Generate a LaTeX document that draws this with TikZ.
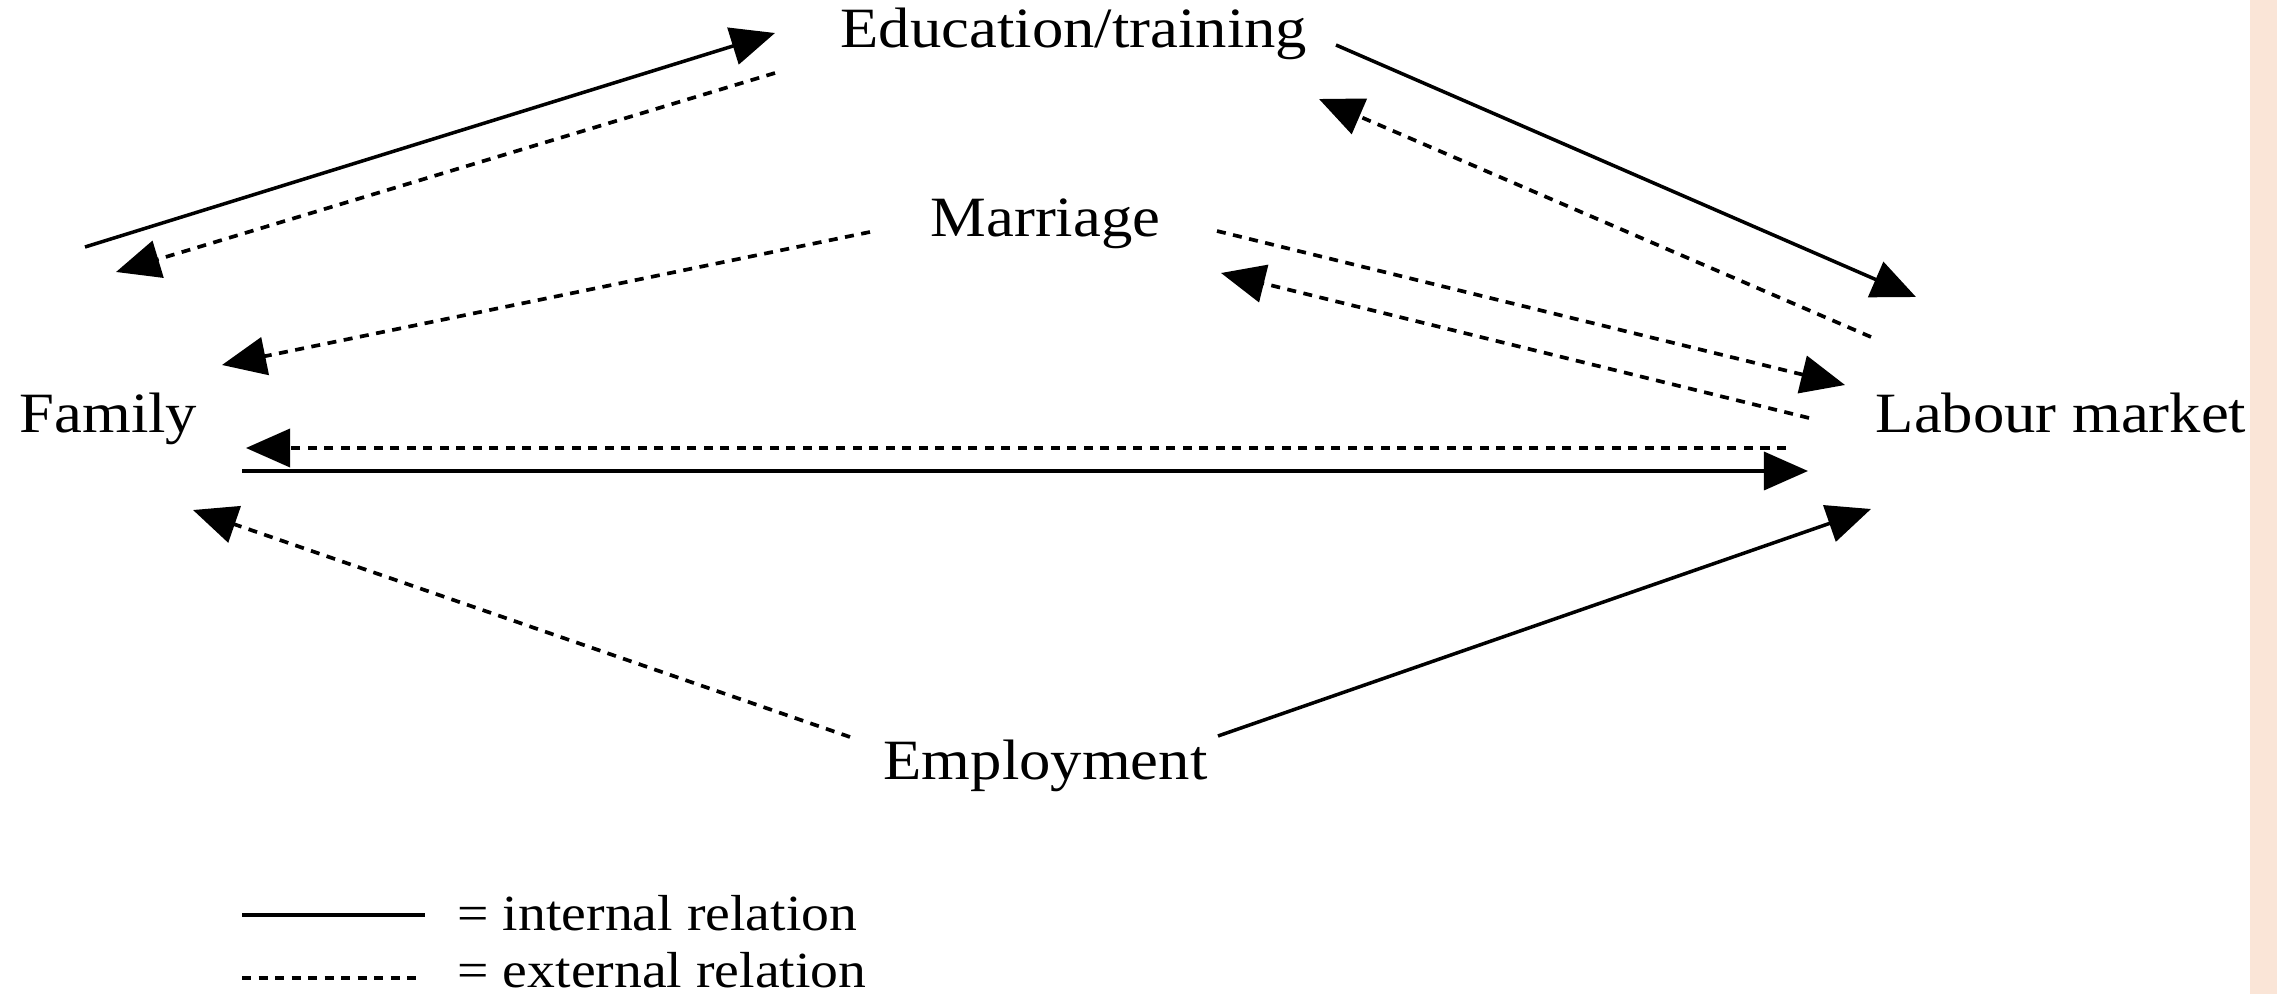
\documentclass[tikz,border=0pt]{standalone}
\usepackage{fontspec}
\setmainfont{Liberation Serif}[FakeStretch=1.1]
\usetikzlibrary{arrows.meta}
\definecolor{peach}{RGB}{250,229,215}
\begin{document}
\begin{tikzpicture}[x=0.01cm,y=-0.01cm,
  lbl/.style={anchor=base west, inner sep=0pt, font=\fontsize{16.2pt}{19pt}\selectfont},
  leglbl/.style={anchor=base west, inner sep=0pt, font=\fontsize{14.4pt}{17pt}\selectfont},
  intline/.style={line width=1pt},
  extline/.style={line width=1.05pt, dash pattern=on 0.09cm off 0.075cm},
  tipbig/.style={-{Triangle[length=0.44cm,width=0.38cm]}},
  internal/.style={intline, tipbig},
  external/.style={extline, tipbig},
]
\useasboundingbox (0,0) rectangle (2277,994);
\fill[peach] (2250,0) rectangle (2277,994);

% labels
\node[lbl] (edu) at (840,48) {Education/training};
\node[lbl] (mar) at (930,237) {Marriage};
\node[lbl] (fam) at (19,433) {Family};
\node[lbl] (lab) at (1875,433) {Labour market};
\node[lbl] (emp) at (883,780) {Employment};
\node[leglbl] (leg1) at (457,930) {= internal relation};
\node[leglbl] (leg2) at (457,987) {= external relation};

% connector end points
\coordinate (a1s) at (85,247);   \coordinate (a1e) at (775,33);
\coordinate (a2s) at (1336,45);  \coordinate (a2e) at (1916,297);
\coordinate (a3s) at (242,471);  \coordinate (a3e) at (1808,471);
\coordinate (a4s) at (1218,736); \coordinate (a4e) at (1871,509);

\coordinate (b1s) at (775,73);   \coordinate (b1e) at (116,272);
\coordinate (b2s) at (870,232);  \coordinate (b2e) at (222,365);
\coordinate (b3s) at (1871,337); \coordinate (b3e) at (1319,99);
\coordinate (b4s) at (1217,231); \coordinate (b4e) at (1845,385);
\coordinate (b5s) at (1809,418); \coordinate (b5e) at (1221,273);
\coordinate (b6s) at (1786,448); \coordinate (b6e) at (246,448);
\coordinate (b7s) at (850,737);  \coordinate (b7e) at (193,510);

% internal relations
\draw[internal] (a1s) -- (a1e);
\draw[internal] (a2s) -- (a2e);
\draw[internal] (a3s) -- (a3e);
\draw[internal] (a4s) -- (a4e);

% external relations
\draw[external] (b1s) -- (b1e);
\draw[external] (b2s) -- (b2e);
\draw[external] (b3s) -- (b3e);
\draw[external] (b4s) -- (b4e);
\draw[external] (b5s) -- (b5e);
\draw[external] (b6s) -- (b6e);
\draw[external] (b7s) -- (b7e);

% legend
\coordinate (l1a) at (242,915); \coordinate (l1b) at (425,915);
\coordinate (l2a) at (242,978); \coordinate (l2b) at (418,978);
\draw[intline] (l1a) -- (l1b);
\draw[extline] (l2a) -- (l2b);
\end{tikzpicture}
\end{document}
